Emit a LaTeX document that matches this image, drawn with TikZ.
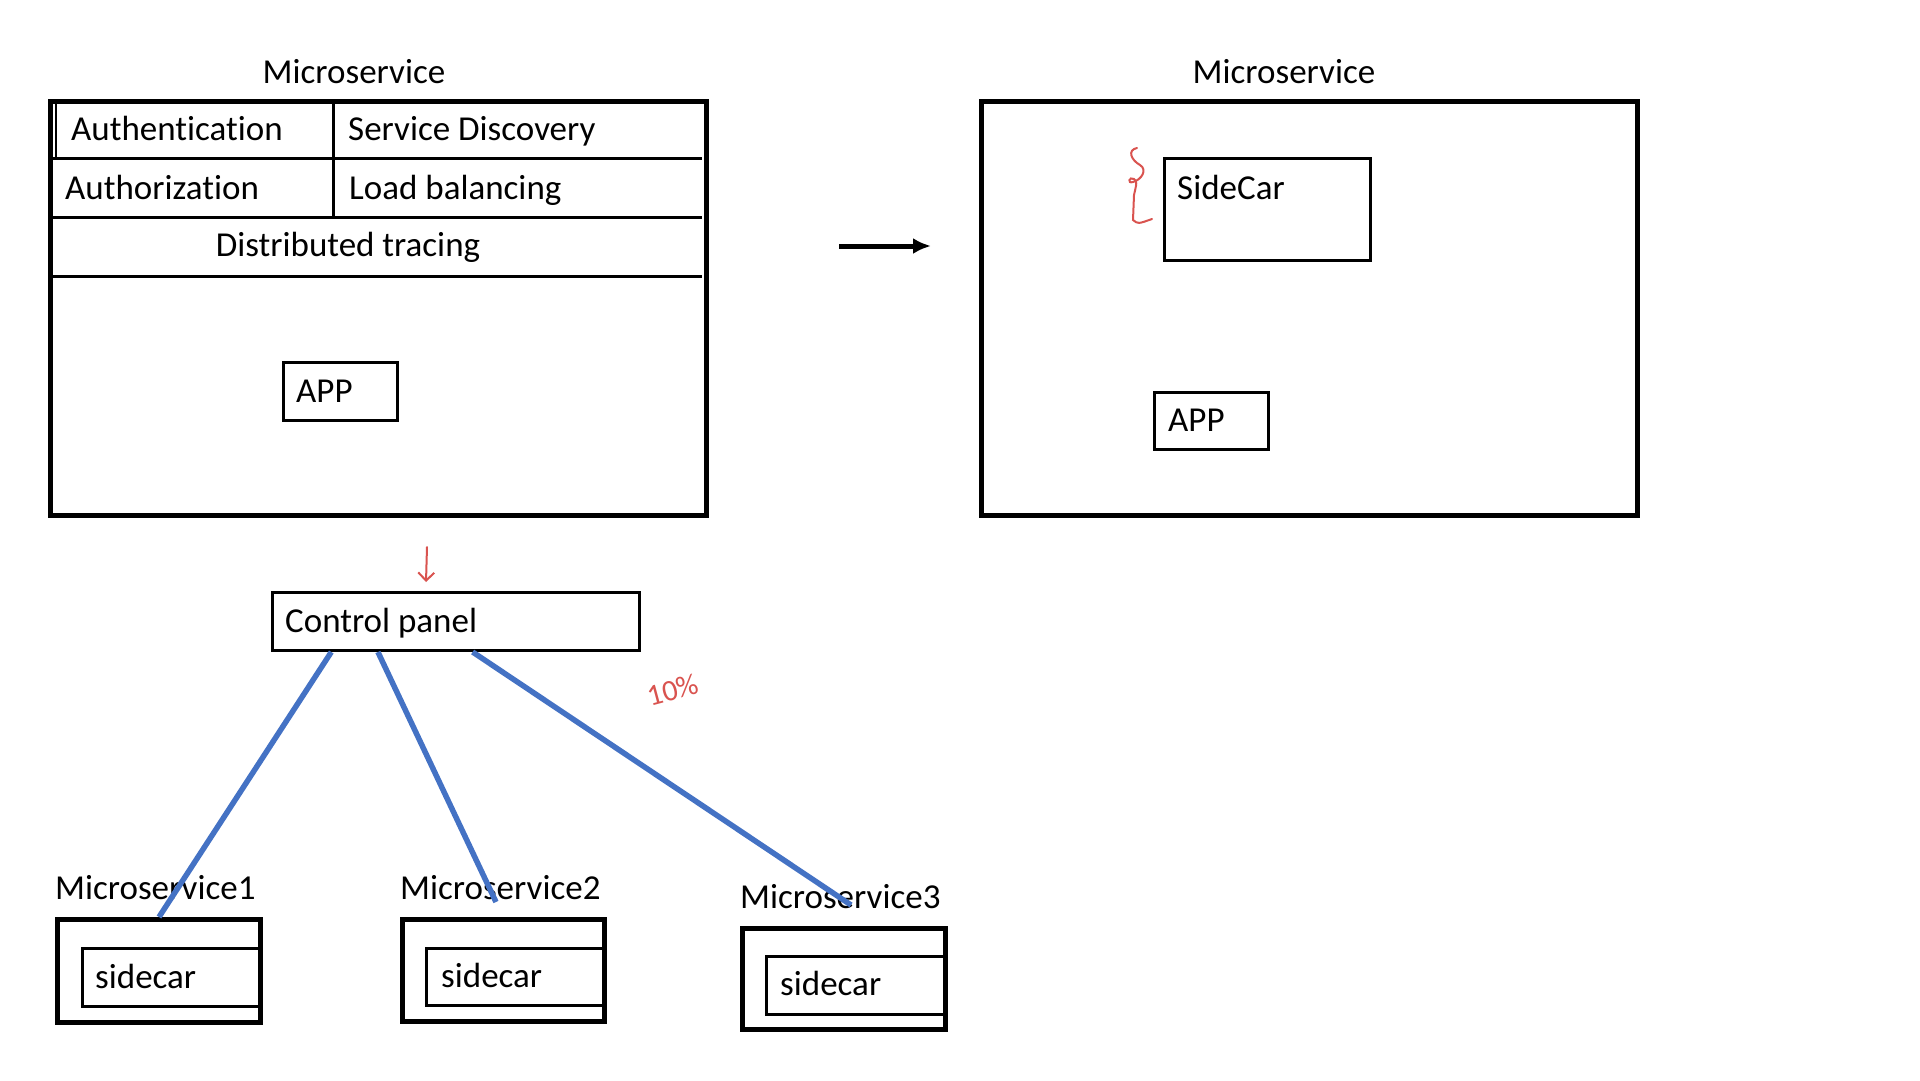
\documentclass[tikz,border=0pt]{standalone}
\usepackage{fontspec}
\setmainfont{Carlito}[Ligatures=NoCommon]
\usetikzlibrary{calc, arrows.meta}

\definecolor{lineblue}{HTML}{4472C4}
\definecolor{penred}{HTML}{D9534F}

\tikzset{
  frame/.style={draw, line width=4.5pt, inner sep=0pt, anchor=north west},
  cell/.style={draw, line width=3pt, inner sep=0pt, anchor=north west},
  txt/.style={inner sep=0pt, anchor=base west, font=\fontsize{35}{42}\selectfont},
  link/.style={draw=lineblue, line width=5.5pt},
  pen/.style={draw=penred, line width=2pt, line cap=round},
}

\begin{document}
\begin{tikzpicture}[x=1pt, y=-1pt]
    \useasboundingbox (0,0) rectangle (1920,1080);

    % 1. Left microservice with the built-in features
    \node[txt, anchor=base] (titleL) at (354,83) {Microservice};
    \node[frame, minimum width=656pt, minimum height=414pt] (msL) at (48,99) {};

    % 2. Table rows and columns
    \draw[line width=3pt] (50,158) -- (702,158);
    \draw[line width=3pt] (50,217) -- (702,217);
    \draw[line width=3pt] (50,276) -- (702,276);
    \draw[line width=3pt] (333,102) -- (333,217);
    \draw[line width=2pt] (56,102) -- (56,158);

    \node[txt] (authn) at (71,140) {Authentication};
    \node[txt] (disc) at (348,140) {Service Discovery};
    \node[txt] (authz) at (65,199) {Authorization};
    \node[txt] (lb) at (349,199) {Load balancing};
    \node[txt, anchor=base] (trace) at (348,256) {Distributed tracing};

    \node[cell, minimum width=114pt, minimum height=58pt] (appL) at (282,361) {};
    \node[txt] at (296,402) {APP};

    % 3. Arrow to the sidecar version
    \coordinate (arrS) at (839,246);
    \coordinate (arrE) at (931,246);
    \draw[line width=5pt, -{Latex[length=18pt, width=16pt]}] (arrS) -- (arrE);

    % 4. Right microservice with a sidecar
    \node[txt, anchor=base] (titleR) at (1284,83) {Microservice};
    \node[frame, minimum width=656pt, minimum height=414pt] (msR) at (979,99) {};
    \node[cell, minimum width=206pt, minimum height=102pt] (side) at (1163,157) {};
    \node[txt] at (1177,199) {SideCar};
    \node[cell, minimum width=114pt, minimum height=57pt] (appR) at (1153,391) {};
    \node[txt] at (1168,431) {APP};

    % 5. Red pen notes
    \draw[pen] (1137,148) .. controls (1127,150) and (1131,160) .. (1140,165)
        .. controls (1148,170) and (1141,180) .. (1133,182)
        .. controls (1127,184) and (1129,176) .. (1134,179)
        .. controls (1137,182) .. (1134,195) -- (1133,220)
        .. controls (1138,224) .. (1152,219);
    \coordinate (penTop) at (427,547);
    \draw[pen, -{Straight Barb[length=8pt, width=16pt]}] (penTop) -- ++(-1,35);
    \node[text=penred, rotate=15, font=\fontsize{30}{36}\selectfont] (pct) at (673,690) {10\%};

    % 6. Control panel
    \node[cell, minimum width=367pt, minimum height=58pt] (cp) at (271,591) {};
    \node[txt] at (285,632) {Control panel};

    % 7. Microservices with their sidecars
    \node[frame, line width=5pt, minimum width=203pt, minimum height=103pt] (ms1) at (55,917) {};
    \node[cell, minimum width=177pt, minimum height=58pt] (sc1) at (81,947) {};
    \node[txt] (lab1) at (55,899) {Microservice1};
    \node[txt] at (95,988) {sidecar};

    \node[frame, line width=5pt, minimum width=202pt, minimum height=102pt] (ms2) at (400,917) {};
    \node[cell, minimum width=177pt, minimum height=57pt] (sc2) at (425,947) {};
    \node[txt] (lab2) at (400,899) {Microservice2};
    \node[txt] at (441,987) {sidecar};

    \node[frame, line width=5pt, minimum width=203pt, minimum height=101pt] (ms3) at (740,926) {};
    \node[cell, minimum width=178pt, minimum height=58pt] (sc3) at (765,955) {};
    \node[txt] (lab3) at (740,908) {Microservice3};
    \node[txt] at (780,995) {sidecar};

    % 8. Links from the control panel
    \coordinate (endB) at (496,902);
    \coordinate (endC) at (851,905);
    \draw[link] ($(cp.south west)!0.163!(cp.south east)$) -- (ms1.north);
    \draw[link] ($(cp.south west)!0.289!(cp.south east)$) -- (endB);
    \draw[link] ($(cp.south west)!0.545!(cp.south east)$) -- (endC);

\end{tikzpicture}
\end{document}
